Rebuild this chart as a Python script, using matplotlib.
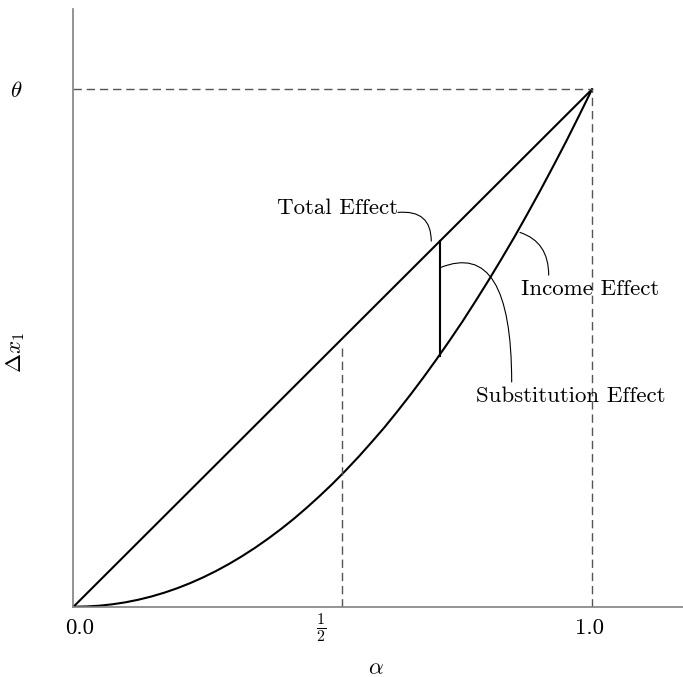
import matplotlib.pyplot as plt

plt.rcParams['font.family'] = 'serif'
plt.rcParams['font.serif'] = ['cmr10']
plt.rcParams['mathtext.fontset'] = 'cm'
plt.rcParams['axes.unicode_minus'] = False
plt.rcParams['axes.formatter.use_mathtext'] = True
plt.rcParams['font.size'] = 16.5

# compensated demand curve
alpha = [0.0, 0.025, 0.05, 0.075, 0.10, 0.125, 0.15, 0.175, 0.20, 0.225,
         0.25, 0.275, 0.30, 0.325, 0.35, 0.375, 0.40, 0.425, 0.45, 0.475,
         0.50, 0.525, 0.55, 0.575, 0.60, 0.625, 0.65, 0.675, 0.70, 0.725,
         0.75, 0.775, 0.80, 0.825, 0.85, 0.875, 0.90, 0.925, 0.95, 0.975, 1.0]
subst_curve = [0.0, 0.0005, 0.002, 0.0047, 0.0085, 0.0135, 0.0197, 0.0271, 0.0357, 0.0456,
               0.0567, 0.0691, 0.0827, 0.0976, 0.1138, 0.1313, 0.150, 0.170, 0.1915, 0.2142,
               0.238, 0.2634, 0.290, 0.3181, 0.347, 0.378, 0.410, 0.4433, 0.478, 0.514,
               0.551, 0.590, 0.630, 0.6715, 0.714, 0.7585, 0.804, 0.851, 0.899, 0.949, 1.0]

# total effect line goes straight up to theta
theta = 1.0
total_x = [0.0, 1.0]
total_y = [0.0, theta]

# the split shown by the vertical bar
alpha_split = 0.707
split_total = 0.707
split_subst = 0.484

# dashed guide at one half
alpha_half = 0.518
half_top = 0.50

xtick_pos = [0.012, 0.478, 0.995]
xtick_labels = ['0.0', r'$\frac{1}{2}$', '1.0']

fig = plt.figure(figsize=(6.83, 6.77), dpi=100)
ax = fig.add_axes([0.1076, 0.1038, 0.8924, 0.8824])

ax.plot(total_x, total_y, color='k', lw=1.5)
ax.plot(alpha, subst_curve, color='k', lw=1.5)
ax.plot([alpha_split, alpha_split], [split_subst, split_total], color='k', lw=1.5)

dash = dict(color='#555555', lw=1.0, ls=(0, (6, 3.5)))
ax.plot([0, 1], [theta, theta], **dash)
ax.plot([1, 1], [0, theta], **dash)
ax.plot([alpha_half, alpha_half], [0, half_top], **dash)

ax.set_xlim(0, 1.1755)
ax.set_ylim(0, 1.1546)

for side in ['top', 'right']:
    ax.spines[side].set_visible(False)
for side in ['left', 'bottom']:
    ax.spines[side].set_color('#808080')
    ax.spines[side].set_linewidth(1.2)

ax.set_xticks(xtick_pos, xtick_labels)
ax.set_yticks([theta], [r'$\theta$'])
ax.tick_params(axis='both', length=0)
ax.tick_params(axis='x', pad=15.3)
ax.tick_params(axis='y', pad=37)

ax.set_xlabel(r'$\alpha$')
ax.xaxis.set_label_coords(0.496, -0.0875)
ax.set_ylabel(r'$\Delta x_1$')
ax.yaxis.set_label_coords(-0.0763, 0.425)

ax.text(0.6253, 0.7582, 'Total Effect', ha='right', va='baseline')
ax.text(0.8625, 0.602, 'Income Effect', ha='left', va='baseline')
ax.text(0.7763, 0.3957, 'Substitution Effect', ha='left', va='baseline')

arrow = dict(arrowstyle='-', shrinkA=0, shrinkB=0, lw=0.8, color='k')
ax.annotate('', xy=(0.690, 0.7066), xytext=(0.6258, 0.7621),
            arrowprops=dict(arrow, connectionstyle='angle3,angleA=5,angleB=90'))
ax.annotate('', xy=(0.8611, 0.7234), xytext=(0.9165, 0.6408),
            arrowprops=dict(arrow, connectionstyle='angle3,angleA=90,angleB=-18'))
ax.annotate('', xy=(0.7082, 0.6557), xytext=(0.8451, 0.4344),
            arrowprops=dict(arrow, connectionstyle='angle3,angleA=90,angleB=22'))

for lbl in ax.get_xticklabels():
    lbl.set_va('center')

fig.savefig('out.png', dpi=100)
